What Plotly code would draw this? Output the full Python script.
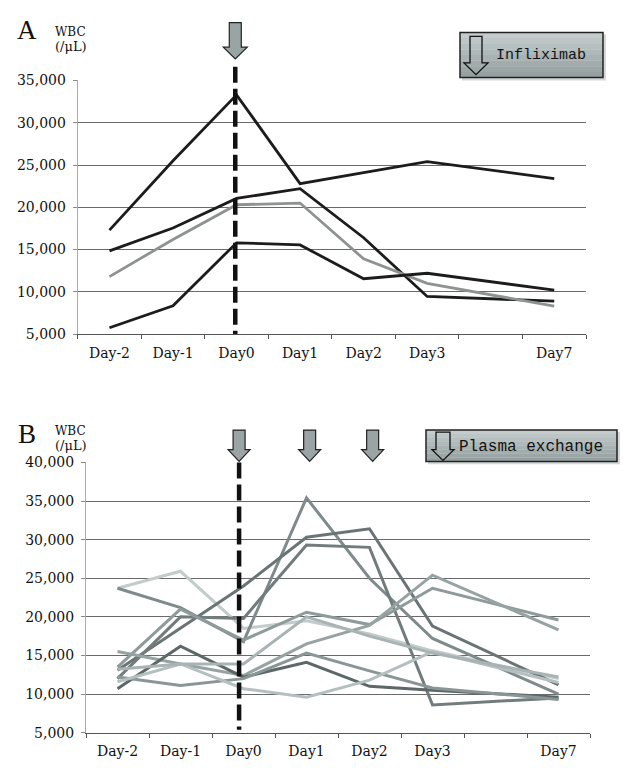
import plotly.graph_objects as go

W, H = 623, 773

# ---------------- data ----------------
day_labels = ["Day-2", "Day-1", "Day0", "Day1", "Day2", "Day3", "Day7"]
day_pos = [0, 1, 2, 3, 4, 5, 7]

# Panel A (Infliximab)
a_p1 = [17300, 25500, 33300, 22800, 24100, 25400, 23400]
a_p2 = [14850, 17550, 21050, 22200, 16400, 9450, 8900]
a_p3 = [11800, 16200, 20300, 20500, 13900, 11000, 8300]
a_p4 = [5750, 8350, 15800, 15550, 11550, 12200, 10200]
a_series = [a_p1, a_p2, a_p3, a_p4]
a_colors = ["#1c1c1c", "#1c1c1c", "#8e9292", "#1c1c1c"]

# Panel B (Plasma exchange)
b_p1 = [23700, 25900, 18500, 19500, 17800, 15600, 12000]
b_p2 = [23700, 21200, 16800, 35400, 25000, 17200, 10000]
b_p3 = [13100, 18500, 24000, 30300, 31400, 18800, 11200]
b_p4 = [12000, 20000, 19800, 29300, 29000, 8600, 9500]
b_p5 = [13500, 21000, 17000, 20600, 19000, 23700, 19600]
b_p6 = [15500, 13900, 12400, 16500, 18900, 25400, 18300]
b_p7 = [10700, 16200, 12200, 14100, 11000, 10500, 9600]
b_p8 = [12200, 11100, 12000, 15300, 13000, 10800, 9300]
b_p9 = [11600, 13900, 10700, 9600, 11800, 15500, 11500]
b_p10 = [13200, 13900, 13900, 20000, 17500, 15300, 12200]
b_series = [b_p1, b_p2, b_p3, b_p4, b_p5, b_p6, b_p7, b_p8, b_p9, b_p10]
b_colors = ["#c3cbcb", "#7f8a8a", "#6b7474", "#737c7c", "#8f9a9a",
            "#97a2a2", "#5e6767", "#8a9595", "#b5bfbf", "#a9b3b3"]

y_ticks_a = [5000, 10000, 15000, 20000, 25000, 30000, 35000]
y_ticks_b = [5000, 10000, 15000, 20000, 25000, 30000, 35000, 40000]

# event markers (category units)
infliximab_day = [1.98]
plasma_days = [1.93, 3.05, 4.05]


def px(x):
    return x / W


def py(y):
    return 1 - y / H


fig = go.Figure()

for s, c in zip(a_series, a_colors):
    fig.add_trace(go.Scatter(x=day_pos, y=s, mode="lines", xaxis="x", yaxis="y",
                             line=dict(color=c, width=2.8), showlegend=False,
                             hoverinfo="skip"))
for s, c in zip(b_series, b_colors):
    fig.add_trace(go.Scatter(x=day_pos, y=s, mode="lines", xaxis="x2", yaxis="y2",
                             line=dict(color=c, width=3), showlegend=False,
                             hoverinfo="skip"))

tick_font = dict(family="DejaVu Serif", size=14, color="#111")

xaxis_common = dict(
    range=[-0.5, 7.5], tickmode="array", tickvals=day_pos, ticktext=day_labels,
    ticks="", showgrid=False, showline=True, linecolor="#555", linewidth=1,
    zeroline=False, tickfont=tick_font, ticklabelstandoff=6,
    minor=dict(tickmode="array", tickvals=[i - 0.5 for i in range(9)],
               ticks="outside", ticklen=4, tickcolor="#555", tickwidth=1,
               showgrid=False),
)
yaxis_common = dict(
    tickmode="array", tickformat=",", showgrid=True, gridcolor="#6a6a6a",
    gridwidth=1, showline=True, linecolor="#aaaaaa", linewidth=1, ticks="outside",
    ticklen=4, tickcolor="#888", zeroline=False, tickfont=tick_font,
    ticklabelstandoff=4,
)

fig.update_layout(
    width=W, height=H, autosize=False,
    margin=dict(l=0, r=0, t=0, b=0),
    paper_bgcolor="white", plot_bgcolor="white",
    xaxis=dict(domain=[px(77.7), px(586)], anchor="y", **xaxis_common),
    yaxis=dict(domain=[py(333), py(74)], anchor="x", range=[5000, 35000],
               tickvals=y_ticks_a, **yaxis_common),
    xaxis2=dict(domain=[px(86), px(590)], anchor="y2", **xaxis_common),
    yaxis2=dict(domain=[py(740), py(464)], anchor="x2", range=[5000, 40000],
                tickvals=y_ticks_b, **yaxis_common),
)

shapes = []
annotations = []

# dashed Day0 lines
shapes.append(dict(type="line", xref="x", yref="paper", x0=infliximab_day[0],
                   x1=infliximab_day[0], y0=py(60), y1=py(333),
                   line=dict(color="#111", width=4.5, dash="16px,6px")))
shapes.append(dict(type="line", xref="x2", yref="paper", x0=plasma_days[0],
                   x1=plasma_days[0], y0=py(464), y1=py(737),
                   line=dict(color="#111", width=4.5, dash="16px,6px")))


def arrow_path(xc, ytop, yshaft, ytip, shaft_hw, head_hw, xscale):
    sw = shaft_hw / xscale
    hw = head_hw / xscale
    pts = [(xc - sw, ytop), (xc + sw, ytop), (xc + sw, yshaft), (xc + hw, yshaft),
           (xc, ytip), (xc - hw, yshaft), (xc - sw, yshaft)]
    return "M " + " L ".join(f"{x:.4f},{py(y):.5f}" for x, y in pts) + " Z"


# arrows above panels
shapes.append(dict(type="path", xref="x", yref="paper",
                   path=arrow_path(infliximab_day[0], 15, 40, 52, 6, 12, 63.5),
                   fillcolor="#9aa4a4", line=dict(color="#222", width=1.2)))
for d in plasma_days:
    shapes.append(dict(type="path", xref="x2", yref="paper",
                       path=arrow_path(d, 431, 451, 463, 6, 11, 63),
                       fillcolor="#9aa4a4", line=dict(color="#222", width=1.2)))


def legend_box(x0, y0, x1, y1):
    shapes.append(dict(type="rect", xref="paper", yref="paper", x0=px(x0 + 2),
                       x1=px(x1 + 3), y0=py(y1 + 3), y1=py(y0 + 2),
                       fillcolor="#d4d8d8", line=dict(width=0)))
    n = 8
    light = (196, 204, 204)
    dark = (150, 160, 160)
    for i in range(n):
        t = i / (n - 1)
        c = tuple(int(light[k] + (dark[k] - light[k]) * t) for k in range(3))
        ya = y0 + (y1 - y0) * i / n
        yb = y0 + (y1 - y0) * (i + 1) / n
        shapes.append(dict(type="rect", xref="paper", yref="paper", x0=px(x0),
                           x1=px(x1), y0=py(yb), y1=py(ya),
                           fillcolor="rgb(%d,%d,%d)" % c, line=dict(width=0)))
    shapes.append(dict(type="rect", xref="paper", yref="paper", x0=px(x0), x1=px(x1),
                       y0=py(y1), y1=py(y0), fillcolor="rgba(0,0,0,0)",
                       line=dict(color="#222", width=1.5)))


def icon_arrow(xc, ytop, yshaft, ytip, sw, hw, fill="rgba(0,0,0,0)"):
    pts = [(xc - sw, ytop), (xc + sw, ytop), (xc + sw, yshaft), (xc + hw, yshaft),
           (xc, ytip), (xc - hw, yshaft), (xc - sw, yshaft)]
    path = "M " + " L ".join(f"{px(x):.5f},{py(y):.5f}" for x, y in pts) + " Z"
    shapes.append(dict(type="path", xref="paper", yref="paper", path=path,
                       fillcolor=fill, line=dict(color="#111", width=1.3)))


legend_box(460, 25, 603, 71)
icon_arrow(476, 29, 56, 68, 6, 12)
annotations.append(dict(text="Infliximab", xref="paper", yref="paper", x=px(541),
                        y=py(48), showarrow=False, xanchor="center", yanchor="middle",
                        font=dict(family="Liberation Mono", size=15, color="#111")))

legend_box(426, 431, 617, 463)
icon_arrow(443, 433, 451, 462, 7, 11)
annotations.append(dict(text="Plasma exchange", xref="paper", yref="paper",
                        x=px(531), y=py(448), showarrow=False, xanchor="center",
                        yanchor="middle",
                        font=dict(family="Liberation Mono", size=16, color="#111")))

for letter, ly, wy, uy in [("A", 22, 24, 39), ("B", 435, 432, 447)]:
    annotations.append(dict(text=letter, xref="paper", yref="paper", x=px(27),
                            y=py(ly), showarrow=False, xanchor="center",
                            yanchor="middle",
                            font=dict(family="Liberation Serif", size=27, color="#111")))
    annotations.append(dict(text="WBC", xref="paper", yref="paper", x=px(53),
                            y=py(wy), showarrow=False, xanchor="left",
                            yanchor="middle",
                            font=dict(family="DejaVu Serif", size=12, color="#111")))
    annotations.append(dict(text="(/μL)", xref="paper", yref="paper", x=px(53),
                            y=py(uy), showarrow=False, xanchor="left",
                            yanchor="middle",
                            font=dict(family="DejaVu Serif", size=13, color="#111")))

fig.update_layout(shapes=shapes, annotations=annotations)
fig.write_html("out.html")
